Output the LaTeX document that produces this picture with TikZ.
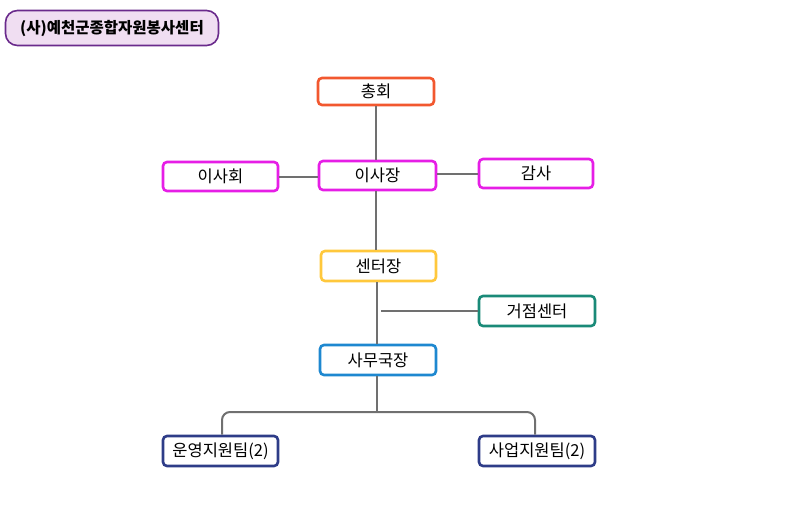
\documentclass[tikz,border=0pt]{standalone}
\usepackage{fontspec}
\setmainfont{Noto Sans CJK KR}
\begin{document}
\begin{tikzpicture}[x=1pt,y=-1pt,
  box/.style={draw, line width=2.6pt, rounded corners=4pt, fill=white, inner sep=0pt, font=\fontsize{16.5}{19}\selectfont},
  conn/.style={draw=linegray, line width=2pt},
]
\definecolor{linegray}{HTML}{707070}
\definecolor{orangered}{HTML}{F2582F}
\definecolor{magentab}{HTML}{E61EE6}
\definecolor{yellowb}{HTML}{FFC83C}
\definecolor{tealb}{HTML}{1A8A78}
\definecolor{blueb}{HTML}{1E88D0}
\definecolor{navyb}{HTML}{2E3C88}
\definecolor{titlefill}{HTML}{F0DEF2}
\definecolor{titledraw}{HTML}{6A2A8C}
\useasboundingbox (0,0) rectangle (800,528);
% title
\node[draw=titledraw, fill=titlefill, line width=1.6pt, rounded corners=12pt, minimum width=213pt, minimum height=35pt, inner sep=0pt, font=\fontsize{15.5}{18}\selectfont\bfseries] (title) at (112,28) {(사)예천군종합자원봉사센터};
% boxes
\node[box, draw=orangered, minimum width=116pt, minimum height=27pt] (chonghoe) at (376,91.5) {총회};
\node[box, draw=magentab, minimum width=117pt, minimum height=29pt] (isajang) at (377.5,175.5) {이사장};
\node[box, draw=magentab, minimum width=115pt, minimum height=29pt] (isahoe) at (220.5,176.5) {이사회};
\node[box, draw=magentab, minimum width=114pt, minimum height=29pt] (gamsa) at (536,173.5) {감사};
\node[box, draw=yellowb, minimum width=115pt, minimum height=30pt] (senteo) at (378.5,266) {센터장};
\node[box, draw=tealb, minimum width=116pt, minimum height=30pt] (geojeom) at (537,311) {거점센터};
\node[box, draw=blueb, minimum width=116pt, minimum height=30pt] (samu) at (378,360) {사무국장};
\node[box, draw=navyb, minimum width=115pt, minimum height=30pt] (unyeong) at (220.5,451) {운영지원팀(2)};
\node[box, draw=navyb, minimum width=116pt, minimum height=30pt] (saeop) at (537,451) {사업지원팀(2)};
% connector points
\coordinate (gj) at (381,311);
\coordinate (br) at (377,412);
% connectors
\draw[conn] (chonghoe.south -| 376,0) -- (isajang.north -| 376,0);
\draw[conn] (isahoe.east) -- (isahoe.east -| isajang.west);
\draw[conn] (gamsa.west -| isajang.east) -- (gamsa.west);
\draw[conn] (isajang.south -| 376,0) -- (senteo.north -| 376,0);
\draw[conn] (senteo.south -| 377,0) -- (samu.north -| 377,0);
\draw[conn] (gj) -- (geojeom.west);
\draw[conn] (samu.south -| br) -- (br);
\draw[conn, rounded corners=8pt] (unyeong.north -| 222,0) |- (br) -| (saeop.north -| 535,0);
\end{tikzpicture}
\end{document}
